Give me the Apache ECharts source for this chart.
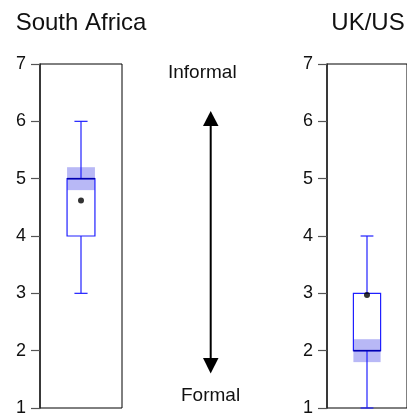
<!DOCTYPE html>
<html>
<head>
<meta charset="utf-8">
<script src="https://cdn.jsdelivr.net/npm/echarts@6/dist/echarts.min.js"></script>
<style>
html,body{margin:0;padding:0;background:#fff;}
#chart{width:407px;height:417px;}
</style>
</head>
<body>
<div id="chart"></div>
<script>
const panels = ['South Africa', 'UK/US'];
const whiskerLow = [3, 1];
const q1 = [4, 2];
const median = [5, 2];
const q3 = [5, 3];
const whiskerHigh = [6, 4];
const ciLow = [4.8, 1.8];
const ciHigh = [5.2, 2.2];
const means = [4.62, 2.97];
const yTicks = [1, 2, 3, 4, 5, 6, 7];
const topLabel = 'Informal';
const bottomLabel = 'Formal';

const FONT = 'Liberation Sans, Arial, sans-serif';
const BLUE = '#2020ff';
const BAND = '#b8b8f6';

const chart = echarts.init(document.getElementById('chart'), null, {renderer: 'canvas'});

function renderBox(params, api) {
  const x = api.value(0);
  const lo = api.value(1), a = api.value(2), m = api.value(3), b = api.value(4), hi = api.value(5);
  const cl = api.value(6), ch = api.value(7);
  const bw = api.size([1, 0])[0];
  const boxW = bw * 0.34, capW = bw * 0.16;
  const pLo = api.coord([x, lo]), pA = api.coord([x, a]), pM = api.coord([x, m]);
  const pB = api.coord([x, b]), pHi = api.coord([x, hi]);
  const pCl = api.coord([x, cl]), pCh = api.coord([x, ch]);
  const cx = pA[0];
  const lineStyle = {stroke: BLUE, lineWidth: 1.2, fill: null};
  return {
    type: 'group',
    children: [
      {type: 'rect', shape: {x: cx - boxW / 2, y: pB[1], width: boxW, height: pA[1] - pB[1]}, style: {fill: '#fff', stroke: null}},
      {type: 'rect', shape: {x: cx - boxW / 2, y: pCh[1], width: boxW, height: pCl[1] - pCh[1]}, style: {fill: BAND, stroke: null}},
      {type: 'line', shape: {x1: cx, y1: pHi[1], x2: cx, y2: pB[1]}, style: lineStyle},
      {type: 'line', shape: {x1: cx, y1: pA[1], x2: cx, y2: pLo[1]}, style: lineStyle},
      {type: 'line', shape: {x1: cx - capW / 2, y1: pHi[1], x2: cx + capW / 2, y2: pHi[1]}, style: lineStyle},
      {type: 'line', shape: {x1: cx - capW / 2, y1: pLo[1], x2: cx + capW / 2, y2: pLo[1]}, style: lineStyle},
      {type: 'rect', shape: {x: cx - boxW / 2, y: pB[1], width: boxW, height: pA[1] - pB[1]}, style: {fill: null, stroke: BLUE, lineWidth: 1.2}},
      {type: 'line', shape: {x1: cx - boxW / 2, y1: pM[1], x2: cx + boxW / 2, y2: pM[1]}, style: {stroke: '#0000b0', lineWidth: 1.6}}
    ]
  };
}

const grids = [
  {left: 40, top: 64, width: 82, height: 351},
  {left: 327, top: 64, width: 82, height: 351}
];

const option = {
  animation: false,
  backgroundColor: '#fff',
  title: panels.map((p, i) => ({
    text: p,
    left: grids[i].left + grids[i].width / 2,
    top: 11,
    padding: 0,
    textAlign: 'center',
    textStyle: {fontFamily: FONT, fontSize: 24, fontWeight: 'normal', color: '#111'}
  })),
  grid: grids.map(g => Object.assign({show: true, borderColor: '#000', borderWidth: 1, backgroundColor: '#fff'}, g)),
  xAxis: panels.map((p, i) => ({
    type: 'category', gridIndex: i, data: [p],
    axisLine: {show: false}, axisTick: {show: false}, axisLabel: {show: false}, splitLine: {show: false}
  })),
  yAxis: panels.map((p, i) => ({
    type: 'value', gridIndex: i, min: yTicks[0], max: yTicks[yTicks.length - 1], interval: 1,
    axisLine: {show: true, lineStyle: {color: '#222', width: 1.5}},
    axisTick: {show: true, length: 9, lineStyle: {color: '#555', width: 1.2}},
    axisLabel: {margin: 14, fontFamily: FONT, fontSize: 18, color: '#111'},
    splitLine: {show: false}
  })),
  series: [
    ...panels.map((p, i) => ({
      type: 'custom', xAxisIndex: i, yAxisIndex: i, renderItem: renderBox,
      data: [[0, whiskerLow[i], q1[i], median[i], q3[i], whiskerHigh[i], ciLow[i], ciHigh[i]]],
      z: 3
    })),
    ...panels.map((p, i) => ({
      type: 'scatter', xAxisIndex: i, yAxisIndex: i, symbolSize: 6,
      itemStyle: {color: '#000'}, data: [[0, means[i]]], z: 5
    }))
  ],
  graphic: [
    {type: 'text', left: 168, top: 63, style: {text: topLabel, font: '19px ' + FONT, fill: '#111'}},
    {type: 'text', left: 181, top: 386, style: {text: bottomLabel, font: '19px ' + FONT, fill: '#111'}},
    {type: 'line', shape: {x1: 210.7, y1: 124, x2: 210.7, y2: 360}, style: {stroke: '#000', lineWidth: 2}},
    {type: 'polygon', shape: {points: [[210.7, 111], [203, 126], [218.5, 126]]}, style: {fill: '#000'}},
    {type: 'polygon', shape: {points: [[210.7, 373.5], [203, 358], [218.5, 358]]}, style: {fill: '#000'}}
  ]
};
chart.setOption(option);
</script>
</body>
</html>
